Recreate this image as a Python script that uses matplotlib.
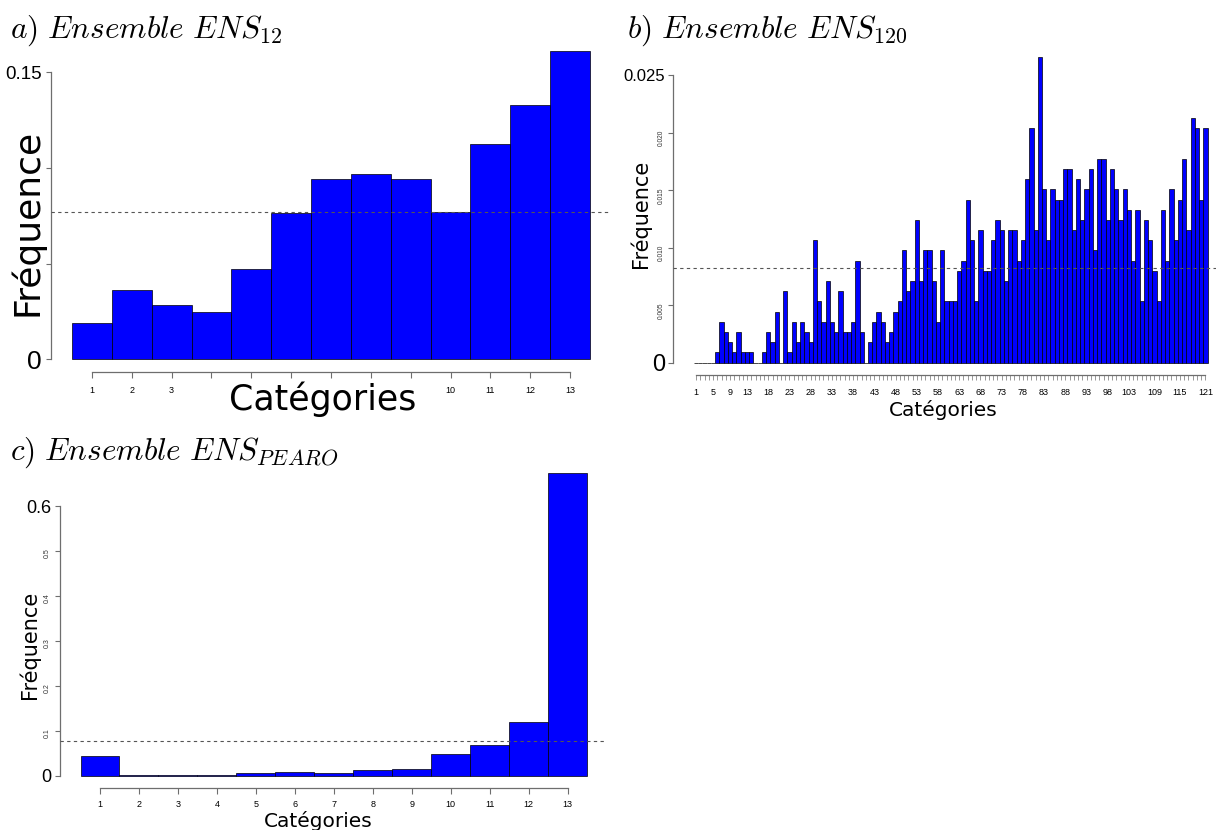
import matplotlib
matplotlib.use('Agg')
import matplotlib.pyplot as plt

plt.rcParams['mathtext.fontset'] = 'cm'

# ---------------- data ----------------
cats_a = list(range(1, 14))
freq_a = [0.0188, 0.0364, 0.0286, 0.0249, 0.0472, 0.0765, 0.0941,
          0.0967, 0.0941, 0.0772, 0.1127, 0.1331, 0.1613]
xlabels_a = ['1', '2', '3', '', '', '', '', '', '', '10', '11', '12', '13']
yticks_a = [0, 0.05, 0.10, 0.15]
ylabels_a = ['0', '', '', '0.15']
ref_a = 0.0769

cats_b = list(range(1, 122))
freq_b = [0, 0, 0, 0, 0,
          0.00089, 0.00355, 0.00266, 0.00177, 0.00089,
          0.00266, 0.00089, 0.00089, 0.00089, 0,
          0, 0.00089, 0.00266, 0.00177, 0.00443,
          0, 0.00621, 0.00089, 0.00355, 0.00177,
          0.00355, 0.00266, 0.00177, 0.01064, 0.00532,
          0.00355, 0.00709, 0.00355, 0.00266, 0.00621,
          0.00266, 0.00266, 0.00355, 0.00887, 0.00266,
          0, 0.00177, 0.00355, 0.00443, 0.00355,
          0.00177, 0.00266, 0.00443, 0.00532, 0.00975,
          0.00621, 0.00709, 0.01241, 0.00709, 0.00975,
          0.00975, 0.00709, 0.00355, 0.00975, 0.00532,
          0.00532, 0.00532, 0.00798, 0.00887, 0.01418,
          0.01064, 0.00532, 0.01152, 0.00798, 0.00798,
          0.01064, 0.01241, 0.01152, 0.00709, 0.01152,
          0.01152, 0.00887, 0.01064, 0.01596, 0.02039,
          0.01152, 0.02660, 0.01507, 0.01064, 0.01507,
          0.01418, 0.01418, 0.01684, 0.01684, 0.01152,
          0.01596, 0.01241, 0.01507, 0.01684, 0.00975,
          0.01773, 0.01773, 0.01241, 0.01684, 0.01507,
          0.01241, 0.01507, 0.01330, 0.00887, 0.01330,
          0.00532, 0.01241, 0.01064, 0.00798, 0.00532,
          0.01330, 0.00887, 0.01507, 0.01064, 0.01418,
          0.01773, 0.01152, 0.02128, 0.02039, 0.01418,
          0.02039]
shown_xlabels_b = [1, 5, 9, 13, 18, 23, 28, 33, 38, 43, 48, 53, 58, 63, 68,
                   73, 78, 83, 88, 93, 98, 103, 109, 115, 121]
yticks_b = [0, 0.005, 0.010, 0.015, 0.020, 0.025]
ylabels_b = ['0', '0.005', '0.010', '0.015', '0.020', '0.025']
ref_b = 0.00826

cats_c = list(range(1, 14))
freq_c = [0.0446, 0.0020, 0.0005, 0.0020, 0.0060, 0.0074, 0.0060,
          0.0134, 0.0141, 0.0475, 0.0676, 0.1196, 0.6735]
xlabels_c = [str(c) for c in cats_c]
yticks_c = [0, 0.1, 0.2, 0.3, 0.4, 0.5, 0.6]
ylabels_c = ['0', '0.1', '0.2', '0.3', '0.4', '0.5', '0.6']
ref_c = 0.0769

# ---------------- layout helpers ----------------
W, H = 1216, 830
fig = plt.figure(figsize=(W / 100, H / 100), dpi=100)

AXC = '#6e6e6e'


def place(xref, yref, xlim, ylim):
    d0, p0, d1, p1 = xref
    sx = (p1 - p0) / (d1 - d0)
    left = p0 + (xlim[0] - d0) * sx
    right = p0 + (xlim[1] - d0) * sx
    e0, q0, e1, q1 = yref
    sy = (q1 - q0) / (e1 - e0)
    top = q0 + (ylim[1] - e0) * sy
    bottom = q0 + (ylim[0] - e0) * sy
    ax = fig.add_axes([left / W, 1 - bottom / H, (right - left) / W,
                       (bottom - top) / H])
    ax.set_xlim(*xlim)
    ax.set_ylim(*ylim)
    return ax


def style(ax, cats, yticks):
    for s in ('top', 'right'):
        ax.spines[s].set_visible(False)
    for s in ('left', 'bottom'):
        ax.spines[s].set_color(AXC)
        ax.spines[s].set_linewidth(0.9)
    ax.spines['left'].set_bounds(yticks[0], yticks[-1])
    ax.spines['bottom'].set_bounds(cats[0], cats[-1])


def draw(ax, cats, freq, ref):
    ax.bar(cats, freq, width=1.0, color='#0000ff', edgecolor='black',
           linewidth=0.5, zorder=2)
    ax.axhline(ref, color='#555555', linestyle=(0, (3, 3)), linewidth=0.8,
               zorder=3)


# ---------------- panel a ----------------
n = len(cats_a)
ma = max(freq_a)
axa = place((0.5, 72, n + 0.5, 590), (0, 359.3, 0.15, 72.3),
            (0.5 - 0.04 * n, n + 0.5 + 0.04 * n), (-0.04 * ma, 1.04 * ma))
draw(axa, cats_a, freq_a, ref_a)
style(axa, cats_a, yticks_a)
axa.set_xticks(cats_a, xlabels_a, fontsize=6.5, family='Liberation Sans')
axa.tick_params(axis='x', length=4.3, width=0.8, color=AXC, pad=6)
axa.set_yticks(yticks_a, ylabels_a, family='Liberation Sans')
axa.tick_params(axis='y', length=3.6, width=0.8, color=AXC, pad=3)
lab = axa.get_yticklabels()
lab[0].set_fontsize(19)
lab[-1].set_fontsize(13.5)
fig.text(27 / W, 1 - 222 / H, 'Fréquence', rotation=90, fontsize=26,
         ha='center', va='center', family='DejaVu Sans')
fig.text(323 / W, 1 - 410 / H, 'Catégories', fontsize=25,
         ha='center', va='baseline', family='DejaVu Sans')
fig.text(10 / W, 1 - 38 / H, r'$\mathit{a)\ Ensemble}\ ENS_{12}$',
         fontsize=22.5, ha='left', va='baseline')

# ---------------- panel b ----------------
n = len(cats_b)
mb = max(freq_b)
axb = place((0.5, 694, n + 0.5, 1207.5), (0, 362.7, 0.025, 75),
            (0.5 - 0.04 * n, n + 0.5 + 0.04 * n), (-0.04 * mb, 1.04 * mb))
draw(axb, cats_b, freq_b, ref_b)
style(axb, cats_b, yticks_b)
xl_b = [str(c) if c in shown_xlabels_b else '' for c in cats_b]
axb.set_xticks(cats_b, xl_b, fontsize=6.5, family='Liberation Sans')
axb.tick_params(axis='x', length=3.6, width=0.5, color=AXC, pad=6)
axb.set_yticks(yticks_b, ylabels_b, family='Liberation Sans')
axb.tick_params(axis='y', length=3.6, width=0.8, color=AXC, pad=2.5)
lab = axb.get_yticklabels()
lab[0].set_fontsize(17)
lab[-1].set_fontsize(12)
for t in lab[1:-1]:
    t.set_fontsize(4.8)
    t.set_rotation(90)
    t.set_color('#333333')
fig.text(640 / W, 1 - 214 / H, 'Fréquence', rotation=90, fontsize=15,
         ha='center', va='center', family='DejaVu Sans')
fig.text(943 / W, 1 - 416 / H, 'Catégories', fontsize=14.5,
         ha='center', va='baseline', family='DejaVu Sans')
fig.text(627 / W, 1 - 38 / H, r'$\mathit{b)\ Ensemble}\ ENS_{120}$',
         fontsize=22.5, ha='left', va='baseline')

# ---------------- panel c ----------------
n = len(cats_c)
mc = max(freq_c)
axc = place((0.5, 80.5, n + 0.5, 587), (0, 775.7, 0.6, 506.3),
            (0.5 - 0.04 * n, n + 0.5 + 0.04 * n), (-0.04 * mc, 1.04 * mc))
draw(axc, cats_c, freq_c, ref_c)
style(axc, cats_c, yticks_c)
axc.set_xticks(cats_c, xlabels_c, fontsize=6.5, family='Liberation Sans')
axc.tick_params(axis='x', length=4.3, width=0.8, color=AXC, pad=4.5)
axc.set_yticks(yticks_c, ylabels_c, family='Liberation Sans')
axc.tick_params(axis='y', length=3.6, width=0.8, color=AXC, pad=3)
lab = axc.get_yticklabels()
lab[0].set_fontsize(13)
lab[-1].set_fontsize(13)
for t in lab[1:-1]:
    t.set_fontsize(5)
    t.set_rotation(90)
    t.set_color('#333333')
fig.text(29 / W, 1 - 645 / H, 'Fréquence', rotation=90, fontsize=15,
         ha='center', va='center', family='DejaVu Sans')
fig.text(318 / W, 1 - 826.5 / H, 'Catégories', fontsize=14.5,
         ha='center', va='baseline', family='DejaVu Sans')
fig.text(10 / W, 1 - 460 / H, r'$\mathit{c)\ Ensemble}\ ENS_{PEARO}$',
         fontsize=22.5, ha='left', va='baseline')

fig.savefig('out.png', dpi=100)
